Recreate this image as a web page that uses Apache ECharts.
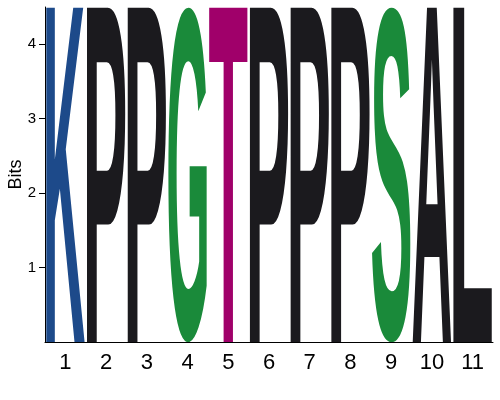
<!DOCTYPE html>
<html><head><meta charset="utf-8">
<script src="https://cdn.jsdelivr.net/npm/echarts@6/dist/echarts.min.js"></script>
<style>html,body{margin:0;padding:0;background:#fff}#c{width:500px;height:400px}</style>
</head><body><div id="c"></div>
<script>
const positions = ['1','2','3','4','5','6','7','8','9','10','11'];
const letters = ['K','P','P','G','T','P','P','P','S','A','L'];
const bits = [4.49, 4.49, 4.49, 4.49, 4.49, 4.49, 4.49, 4.49, 4.49, 4.49, 4.49];
const yTicks = [1, 2, 3, 4];

const letterColors = { K: '#1d4a8a', P: '#1b1a1e', G: '#1a8a3a', T: '#a0006a', S: '#1a8a3a', A: '#1b1a1e', L: '#1b1a1e' };
const FONT = 'bold 400px "Liberation Sans"';
const MC = 1000;
const mcan = document.createElement('canvas'); mcan.width = MC; mcan.height = MC;
const mctx = mcan.getContext('2d', { willReadFrequently: true });
const boxCache = {};
function glyphBox(ch) {
  if (boxCache[ch]) return boxCache[ch];
  mctx.clearRect(0, 0, MC, MC);
  mctx.font = FONT; mctx.textAlign = 'center'; mctx.textBaseline = 'middle'; mctx.fillStyle = '#000';
  const o = MC / 2;
  mctx.fillText(ch, o, o);
  const d = mctx.getImageData(0, 0, MC, MC).data;
  let minX = MC, maxX = -1, minY = MC, maxY = -1;
  for (let y = 0; y < MC; y++) {
    for (let x = 0; x < MC; x++) {
      if (d[(y * MC + x) * 4 + 3] > 127) {
        if (x < minX) minX = x; if (x > maxX) maxX = x;
        if (y < minY) minY = y; if (y > maxY) maxY = y;
      }
    }
  }
  const b = { l: o - minX, r: maxX + 1 - o, a: o - minY, d: maxY + 1 - o };
  boxCache[ch] = b;
  return b;
}
const widthFrac = 0.94;

const chart = echarts.init(document.getElementById('c'), null, { renderer: 'canvas' });
chart.setOption({
  animation: false,
  grid: { left: 45, right: 7, top: 7, bottom: 58, containLabel: false, outerBoundsMode: 'none' },
  xAxis: {
    type: 'category', data: positions, boundaryGap: true,
    axisLine: { lineStyle: { color: '#000', width: 1 } },
    axisTick: { alignWithLabel: true, length: 5, lineStyle: { color: '#000' } },
    axisLabel: { fontSize: 22, color: '#000', margin: 10, fontFamily: 'Liberation Sans' },
    splitLine: { show: false }
  },
  yAxis: {
    type: 'value', min: 0, max: 4.5,
    name: 'Bits', nameLocation: 'middle', nameGap: 20, nameRotate: 90, nameMoveOverlap: false,
    nameTextStyle: { fontSize: 18, color: '#000', fontFamily: 'Liberation Sans' },
    axisLine: { show: true, lineStyle: { color: '#000', width: 1 } },
    axisTick: { show: true, length: 6, customValues: yTicks, lineStyle: { color: '#000' } },
    axisLabel: { fontSize: 15, color: '#000', margin: 9, customValues: yTicks, fontFamily: 'Liberation Sans' },
    splitLine: { show: false }
  },
  series: [{
    type: 'custom',
    clip: true,
    data: bits.map((v, i) => [i, v]),
    renderItem: function (params, api) {
      const i = api.value(0), h = api.value(1);
      const ch = letters[params.dataIndex];
      const col = letterColors[ch];
      const top = api.coord([i, h]);
      const base = api.coord([i, 0]);
      const bw = api.size([1, 0])[0] * widthFrac;
      const b = glyphBox(ch);
      const sx = bw / (b.l + b.r);
      const sy = (base[1] - top[1]) / (b.a + b.d);
      const x0 = top[0] - bw / 2, y0 = top[1];
      return {
        type: 'text',
        x: x0 + b.l * sx, y: y0 + b.a * sy,
        scaleX: sx, scaleY: sy,
        style: {
          text: ch, font: FONT, textFont: FONT, fill: col, textFill: col,
          align: 'center', verticalAlign: 'middle', textAlign: 'center', textVerticalAlign: 'middle'
        }
      };
    }
  }]
});
</script>
</body></html>
